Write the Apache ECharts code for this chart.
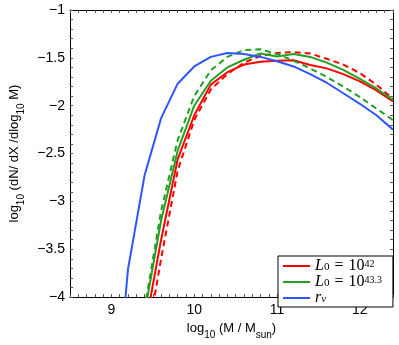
<!DOCTYPE html>
<html>
<head>
<meta charset="utf-8">
<script src="https://cdn.jsdelivr.net/npm/echarts@6/dist/echarts.min.js"></script>
<style>
  html, body { margin: 0; padding: 0; background: #fff; }
  #chart { width: 399px; height: 345px; }
</style>
</head>
<body>
<div id="chart"></div>
<script>
// log10 M / Msun sample points
const massX = [9.0, 9.2, 9.4, 9.6, 9.8, 10.0, 10.2, 10.4, 10.6, 10.8, 11.0, 11.2, 11.4, 11.6, 11.8, 12.0, 12.2, 12.4];

// L0 = 10^42
const redSolid  = [null, null, -4.35, -3.4, -2.56, -2.1, -1.78, -1.65, -1.57, -1.54, -1.53, -1.525, -1.575, -1.61, -1.67, -1.745, -1.84, -1.955];
const redDashed = [null, null, -4.6, -3.6, -2.68, -2.15, -1.83, -1.67, -1.55, -1.48, -1.45, -1.44, -1.455, -1.51, -1.57, -1.66, -1.78, -1.93];
// L0 = 10^43.3
const greenSolid  = [null, null, -4.17, -3.2, -2.47, -2.0, -1.74, -1.6, -1.52, -1.455, -1.485, -1.46, -1.49, -1.55, -1.625, -1.72, -1.82, -1.94];
const greenDashed = [null, null, -4.12, -3.1, -2.36, -1.9, -1.63, -1.49, -1.42, -1.41, -1.46, -1.53, -1.61, -1.7, -1.8, -1.91, -2.03, -2.15];
// r_v
const blueSolid = [-5.65, -3.71, -2.73, -2.13, -1.77, -1.59, -1.49, -1.45, -1.46, -1.49, -1.535, -1.59, -1.67, -1.76, -1.87, -1.98, -2.1, -2.25];

const xLabels = [9, 10, 11, 12];
const yLabels = [-1, -1.5, -2, -2.5, -3, -3.5, -4];

const RED = '#ff0000', GREEN = '#22a022', BLUE = '#2f55ff';
const pairs = (ys) => massX.map((x, i) => [x, ys[i]]);
const isLabel = (list, v) => list.some((t) => Math.abs(t - v) < 1e-6);
const minus = (v) => String(v).replace('-', '\u2212');

const myChart = echarts.init(document.getElementById('chart'));

const mkX = (pos, labels) => ({
  type: 'value', position: pos, min: 8.5, max: 12.4, interval: 0.1,
  axisLine: { show: true, onZero: false, lineStyle: { color: '#000', width: 1 } },
  axisTick: { show: true, inside: true, length: 3, lineStyle: { color: '#555' } },
  splitLine: { show: false },
  axisLabel: labels ? {
    show: true, color: '#000', fontSize: 14, fontFamily: 'Liberation Sans', margin: 6,
    formatter: (v) => isLabel(xLabels, v) ? String(Math.round(v)) : ''
  } : { show: false }
});
const mkY = (pos, labels) => ({
  type: 'value', position: pos, min: -4, max: -1, interval: 0.1,
  axisLine: { show: true, onZero: false, lineStyle: { color: '#000', width: 1 } },
  axisTick: { show: true, inside: true, length: 3, lineStyle: { color: '#555' } },
  splitLine: { show: false },
  axisLabel: labels ? {
    show: true, color: '#000', fontSize: 14, fontFamily: 'Liberation Sans', margin: 5,
    formatter: (v) => isLabel(yLabels, v) ? minus(Math.round(v * 10) / 10) : ''
  } : { show: false }
});

const nameRich = {
  t: { fontSize: 13, fontFamily: 'Liberation Sans', color: '#000', lineHeight: 18, verticalAlign: 'top' },
  s: { fontSize: 10, fontFamily: 'Liberation Sans', color: '#000', lineHeight: 18, verticalAlign: 'bottom' }
};

const xAxisMain = mkX('bottom', true);
xAxisMain.name = '{t|log}{s|10}{t| (M / M}{s|sun}{t|)}';
xAxisMain.nameLocation = 'middle';
xAxisMain.nameGap = 20;
xAxisMain.nameTextStyle = { rich: nameRich };

const yAxisMain = mkY('left', true);
yAxisMain.name = '{t|log}{s|10}{t| (dN/ dX /dlog}{s|10}{t| M)}';
yAxisMain.nameLocation = 'middle';
yAxisMain.nameGap = 44;
yAxisMain.nameRotate = 90;
yAxisMain.nameTextStyle = { rich: nameRich };

const line = (name, ys, color, dashed) => ({
  name: name,
  type: 'line',
  data: pairs(ys),
  showSymbol: false,
  symbol: 'none',
  clip: true,
  silent: true,
  animation: false,
  lineStyle: { color: color, width: 2, type: dashed ? [6, 4] : 'solid' },
  itemStyle: { color: color }
});

const option = {
  animation: false,
  grid: { left: 58, right: 6, top: 10, bottom: 40, containLabel: false },
  xAxis: [xAxisMain, mkX('top', false)],
  yAxis: [yAxisMain, mkY('right', false)],
  legend: {
    data: ['L42', 'L43', 'rv'],
    orient: 'vertical',
    left: 278,
    top: 256,
    padding: [2, 11, 1, 5],
    itemGap: 0,
    itemWidth: 27,
    itemHeight: 2,
    icon: 'rect',
    backgroundColor: '#fff',
    borderColor: '#000',
    borderWidth: 1,
    borderRadius: 0,
    formatter: (name) => ({
      L42: '{i|L}{s|0}{e|=}{m|10}{p|42}',
      L43: '{i|L}{s|0}{e|=}{m|10}{p|43.3}',
      rv: '{i|r}{sv|v}'
    })[name],
    textStyle: {
      lineHeight: 14,
      padding: [0, 0, 0, 0],
      rich: {
        i: { fontSize: 16, fontFamily: 'Liberation Serif', fontStyle: 'italic', color: '#000', lineHeight: 14 },
        m: { fontSize: 16, fontFamily: 'Liberation Serif', color: '#000', lineHeight: 14 },
        e: { fontSize: 16, fontFamily: 'Liberation Serif', color: '#000', lineHeight: 14, padding: [0, 5, 0, 5] },
        s: { fontSize: 11, fontFamily: 'Liberation Serif', color: '#000', lineHeight: 14, verticalAlign: 'bottom', padding: [3, 0, 0, 0] },
        sv: { fontSize: 11, fontFamily: 'Liberation Serif', fontStyle: 'italic', color: '#000', lineHeight: 14, verticalAlign: 'bottom', padding: [3, 0, 0, 0] },
        p: { fontSize: 10, fontFamily: 'Liberation Serif', color: '#000', lineHeight: 14, verticalAlign: 'top' }
      }
    }
  },
  series: [
    line('L42', redSolid, RED, false),
    line('L42d', redDashed, RED, true),
    line('L43', greenSolid, GREEN, false),
    line('L43d', greenDashed, GREEN, true),
    line('rv', blueSolid, BLUE, false)
  ]
};

myChart.setOption(option);
</script>
</body>
</html>
